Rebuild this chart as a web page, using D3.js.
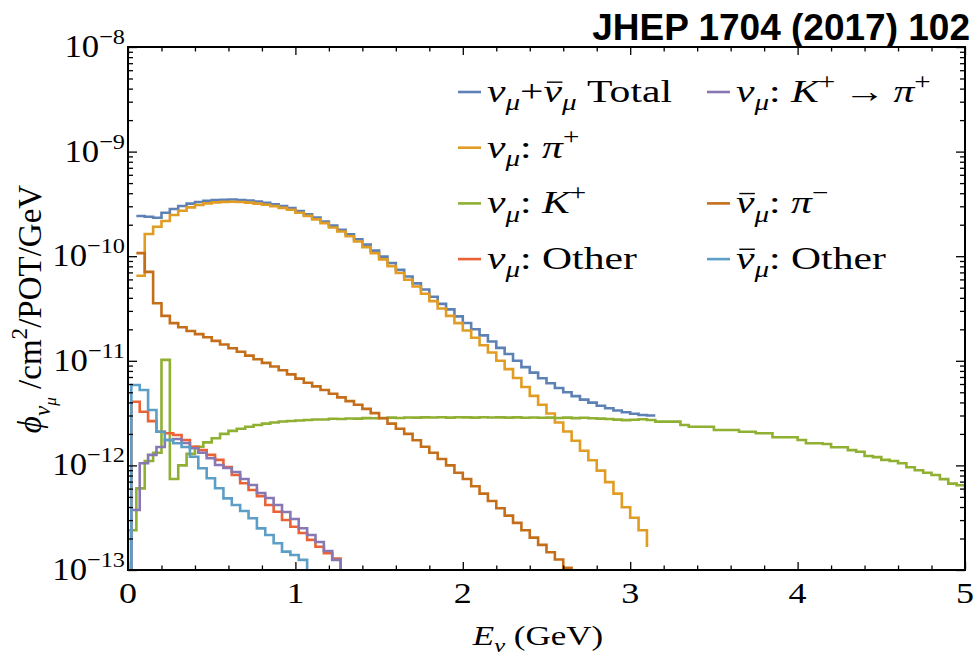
<!DOCTYPE html>
<html><head><meta charset="utf-8">
<script src="https://cdn.jsdelivr.net/npm/d3@7"></script>
<style>body{margin:0;background:#fff}svg{display:block}</style>
</head><body>
<script>
// ---------------- DATA ----------------
const binWidth = 0.05;            // GeV
const xTicks = [0, 1, 2, 3, 4, 5];
const yTickExponents = [-13, -12, -11, -10, -9, -8];

// nu_mu + nubar_mu total  (first bin low edge 0.05 GeV)
const totalStart = 0.05;
const totalValues = [2.42e-10,2.38e-10,2.33e-10,2.60e-10,2.83e-10,3.02e-10,3.18e-10,3.30e-10,3.38e-10,3.44e-10,
 3.47e-10,3.48e-10,3.45e-10,3.41e-10,3.33e-10,3.24e-10,3.14e-10,3.02e-10,2.89e-10,2.70e-10,
 2.52e-10,2.34e-10,2.15e-10,1.96e-10,1.79e-10,1.62e-10,1.45e-10,1.29e-10,1.13e-10,9.9e-11,
 8.6e-11,7.4e-11,6.4e-11,5.5e-11,4.8e-11,4.1e-11,3.5e-11,3.1e-11,2.66e-11,2.30e-11,
 2.00e-11,1.75e-11,1.53e-11,1.33e-11,1.16e-11,1.00e-11,8.7e-12,7.7e-12,6.8e-12,6.1e-12,
 5.5e-12,5.0e-12,4.6e-12,4.25e-12,3.98e-12,3.72e-12,3.52e-12,3.35e-12,3.22e-12,3.12e-12,
 3.03e-12,3.0e-12];
const totalEnd = 3.0e-12;

// nu_mu from pi+
const piPlusStart = 0.05;
const piPlusValues = [6.5e-11,1.63e-10,1.91e-10,2.17e-10,2.48e-10,2.72e-10,2.93e-10,3.09e-10,3.20e-10,3.27e-10,
 3.31e-10,3.32e-10,3.30e-10,3.25e-10,3.18e-10,3.10e-10,3.01e-10,2.90e-10,2.78e-10,2.60e-10,
 2.43e-10,2.25e-10,2.07e-10,1.88e-10,1.72e-10,1.55e-10,1.38e-10,1.22e-10,1.07e-10,9.33e-11,
 8.04e-11,6.92e-11,5.96e-11,5.13e-11,4.37e-11,3.72e-11,3.16e-11,2.69e-11,2.29e-11,1.95e-11,
 1.66e-11,1.41e-11,1.20e-11,1.00e-11,8.32e-12,6.84e-12,5.62e-12,4.62e-12,3.80e-12,3.13e-12,
 2.57e-12,2.11e-12,1.72e-12,1.38e-12,1.12e-12,8.91e-13,6.92e-13,5.37e-13,3.98e-13,3.16e-13,
 2.40e-13];
const piPlusEnd = 1.66e-13;

// nu_mu from K+
const kPlusStart = 0.0;
const kPlusValues = [2.40e-13,6.03e-13,1.10e-12,1.32e-12,1.02e-11,7.41e-13,1.00e-12,1.29e-12,1.51e-12,1.66e-12,
 1.82e-12,2.00e-12,2.14e-12,2.24e-12,2.34e-12,2.43e-12,2.51e-12,2.57e-12,2.63e-12,2.66e-12,
 2.69e-12,2.72e-12,2.75e-12,2.75e-12,2.79e-12,2.78e-12,2.81e-12,2.80e-12,2.83e-12,2.82e-12,
 2.84e-12,2.86e-12,2.84e-12,2.87e-12,2.86e-12,2.88e-12,2.87e-12,2.89e-12,2.86e-12,2.89e-12,
 2.88e-12,2.86e-12,2.89e-12,2.87e-12,2.88e-12,2.86e-12,2.88e-12,2.85e-12,2.87e-12,2.85e-12,
 2.86e-12,2.84e-12,2.86e-12,2.83e-12,2.85e-12,2.82e-12,2.80e-12,2.78e-12,2.74e-12,2.71e-12,
 2.73e-12,2.76e-12,2.72e-12,2.62e-12,2.62e-12,2.62e-12,2.43e-12,2.34e-12,2.34e-12,2.34e-12,
 2.18e-12,2.18e-12,2.18e-12,2.10e-12,2.10e-12,2.03e-12,2.03e-12,1.86e-12,1.86e-12,1.86e-12,
 1.75e-12,1.63e-12,1.63e-12,1.60e-12,1.49e-12,1.49e-12,1.40e-12,1.35e-12,1.23e-12,1.20e-12,
 1.13e-12,1.10e-12,1.05e-12,9.6e-13,9.0e-13,8.5e-13,8.1e-13,7.4e-13,6.7e-13,6.45e-13];
const kPlusEnd = 5.4e-13;

// nu_mu other
const otherStart = 0.02;
const otherValues = [4.06e-12,3.26e-12,2.65e-12,2.10e-12,2.03e-12,1.95e-12,1.75e-12,1.51e-12,1.40e-12,1.26e-12,
 1.13e-12,9.66e-13,8.09e-13,6.75e-13,5.82e-13,5.09e-13,4.18e-13,3.61e-13,3.01e-13,2.59e-13,
 2.26e-13,1.94e-13,1.67e-13,1.45e-13,1.29e-13];
const otherEnd = 1e-14;

// nu_mu from K+ -> pi+
const kPiStart = 0.02;
const kPiValues = [3.75e-13,1.05e-12,1.26e-12,1.50e-12,1.75e-12,1.79e-12,1.64e-12,1.46e-12,1.32e-12,1.17e-12,
 1.01e-12,9.44e-13,8.65e-13,7.41e-13,6.50e-13,5.45e-13,4.88e-13,4.18e-13,3.58e-13,3.07e-13,
 2.51e-13,2.16e-13,1.85e-13,1.52e-13,1.25e-13];
const kPiEnd = 1e-14;

// nubar_mu from pi-
const piMinusStart = 0.05;
const piMinusValues = [1.07e-10,7.08e-11,3.55e-11,2.69e-11,2.29e-11,2.09e-11,1.93e-11,1.80e-11,1.68e-11,1.55e-11,
 1.43e-11,1.32e-11,1.22e-11,1.12e-11,1.035e-11,9.55e-12,8.81e-12,8.13e-12,7.41e-12,6.76e-12,
 6.17e-12,5.69e-12,5.25e-12,4.84e-12,4.47e-12,4.12e-12,3.80e-12,3.47e-12,3.16e-12,2.82e-12,
 2.51e-12,2.24e-12,2.00e-12,1.74e-12,1.51e-12,1.32e-12,1.15e-12,1.00e-12,8.51e-13,7.41e-13,
 6.31e-13,5.37e-13,4.57e-13,3.89e-13,3.31e-13,2.82e-13,2.40e-13,2.04e-13,1.74e-13,1.48e-13,
 1.26e-13,1.05e-13,8.7e-14];
const piMinusEnd = 8.0e-14;

// nubar_mu other
const barOtherStart = 0.02;
const barOtherValues = [5.87e-12,5.26e-12,3.39e-12,2.10e-12,1.75e-12,1.63e-12,1.50e-12,1.21e-12,9.38e-13,7.53e-13,
 6.04e-13,4.84e-13,4.18e-13,3.66e-13,3.12e-13,2.50e-13,2.16e-13,1.80e-13,1.50e-13,1.39e-13,
 1.25e-13];
const barOtherEnd = 1e-14;

// ---------------- LAYOUT ----------------
const W = 979, H = 657;
const PL = 128, PR = 965, PT = 47, PB = 570;
const SERIF = "'Liberation Serif', 'Times New Roman', serif";
const SX = 1.2; // horizontal stretch of the reference typography

const x = d3.scaleLinear().domain([0, 5]).range([PL, PR]);
const y = d3.scaleLog().domain([1e-13, 1e-8]).range([PB, PT]);
const FLOOR = 1e-15;

const series = [
  {key:'total',   start: totalStart,   values: totalValues,   end: totalEnd,   color:'#5E81B5', rise:false},
  {key:'piPlus',  start: piPlusStart,  values: piPlusValues,  end: piPlusEnd,  color:'#E19C24', rise:false},
  {key:'kPlus',   start: kPlusStart,   values: kPlusValues,   end: kPlusEnd,   color:'#8FB032', rise:true},
  {key:'other',   start: otherStart,   values: otherValues,   end: otherEnd,   color:'#EB6235', rise:true},
  {key:'kPi',     start: kPiStart,     values: kPiValues,     end: kPiEnd,     color:'#8778B3', rise:true},
  {key:'piMinus', start: piMinusStart, values: piMinusValues, end: piMinusEnd, color:'#C56E1A', rise:false},
  {key:'barOther',start: barOtherStart,values: barOtherValues,end: barOtherEnd,color:'#5D9EC7', rise:true}
];

const svg = d3.select('body').append('svg').attr('width', W).attr('height', H);
svg.append('rect').attr('width', W).attr('height', H).attr('fill', '#fff');

svg.append('defs').append('clipPath').attr('id', 'plotclip')
  .append('rect').attr('x', PL).attr('y', PT).attr('width', PR - PL).attr('height', PB - PT);

// ---------------- rich text helper ----------------
function richText(parent, tx, ty, segs, size, opts = {}) {
  let tf = `translate(${tx},${ty})`;
  if (opts.rotate) tf += ` rotate(${opts.rotate}) scale(1,${opts.sy || 1})`;
  else tf += ` scale(${opts.sx || 1},1)`;
  const g = parent.append('g').attr('transform', tf);
  const t = g.append('text')
    .attr('font-family', opts.family || SERIF).attr('font-size', size)
    .attr('text-anchor', opts.anchor || 'start').attr('fill', '#000');
  if (opts.weight) t.attr('font-weight', opts.weight);
  let shift = 0, idx = 0;
  const bars = [];
  segs.forEach(s => {
    const sp = t.append('tspan').text(s.t);
    let target = 0, fs = size;
    if (s.sub) { target = size * 0.26; fs = size * 0.7; }
    if (s.sub2) { target = size * 0.45; fs = size * 0.52; }
    if (s.sup) { target = -size * 0.42; fs = size * 0.7; }
    if (target - shift !== 0) sp.attr('dy', target - shift);
    shift = target;
    sp.attr('font-size', fs);
    if (s.i) sp.attr('font-style', 'italic');
    if (s.bar) bars.push({idx, base: target, fs});
    idx += s.t.length;
  });
  bars.forEach(b => {
    const ext = t.node().getExtentOfChar(b.idx);
    g.append('line')
      .attr('x1', ext.x + ext.width * 0.18).attr('x2', ext.x + ext.width * 1.02)
      .attr('y1', b.base - b.fs * 0.62).attr('y2', b.base - b.fs * 0.62)
      .attr('stroke', '#000').attr('stroke-width', 1.4);
  });
  return t;
}

// ---------------- series ----------------
const line = d3.line().x(d => x(d[0])).y(d => y(d[1])).curve(d3.curveStepAfter);
const plot = svg.append('g').attr('clip-path', 'url(#plotclip)');
series.forEach(s => {
  const pts = [];
  if (s.rise) pts.push([s.start, FLOOR]);
  s.values.forEach((v, i) => pts.push([s.start + i * binWidth, v]));
  pts.push([s.start + s.values.length * binWidth, s.end]);
  plot.append('path').datum(pts).attr('d', line)
    .attr('fill', 'none').attr('stroke', s.color).attr('stroke-width', 2.6)
    .attr('stroke-linejoin', 'miter').attr('stroke-linecap', 'butt');
});

// ---------------- axes ----------------
const xMinor = d3.range(0, 5.0001, 0.2).filter(v => Math.abs(v - Math.round(v)) > 1e-6);
const yMajor = yTickExponents.map(e => Math.pow(10, e));
const yMinor = [];
yTickExponents.slice(0, -1).forEach(e => { for (let k = 2; k <= 9; k++) yMinor.push(k * Math.pow(10, e)); });

function styleAxis(g) {
  g.select('.domain').remove();
  g.selectAll('.tick line').attr('stroke', '#000').attr('stroke-width', 1.3);
  g.selectAll('.tick text').remove();
}
svg.append('g').attr('transform', `translate(0,${PB})`)
  .call(d3.axisBottom(x).tickValues(xTicks).tickSize(-8).tickSizeOuter(0)).call(styleAxis);
svg.append('g').attr('transform', `translate(0,${PB})`)
  .call(d3.axisBottom(x).tickValues(xMinor).tickSize(-4.5).tickSizeOuter(0)).call(styleAxis);
svg.append('g').attr('transform', `translate(0,${PT})`)
  .call(d3.axisTop(x).tickValues(xTicks).tickSize(-8).tickSizeOuter(0)).call(styleAxis);
svg.append('g').attr('transform', `translate(0,${PT})`)
  .call(d3.axisTop(x).tickValues(xMinor).tickSize(-4.5).tickSizeOuter(0)).call(styleAxis);
svg.append('g').attr('transform', `translate(${PL},0)`)
  .call(d3.axisLeft(y).tickValues(yMajor).tickSize(-9).tickSizeOuter(0)).call(styleAxis);
svg.append('g').attr('transform', `translate(${PL},0)`)
  .call(d3.axisLeft(y).tickValues(yMinor).tickSize(-5).tickSizeOuter(0)).call(styleAxis);
svg.append('g').attr('transform', `translate(${PR},0)`)
  .call(d3.axisRight(y).tickValues(yMajor).tickSize(-9).tickSizeOuter(0)).call(styleAxis);
svg.append('g').attr('transform', `translate(${PR},0)`)
  .call(d3.axisRight(y).tickValues(yMinor).tickSize(-5).tickSizeOuter(0)).call(styleAxis);

svg.append('rect').attr('x', PL).attr('y', PT).attr('width', PR - PL).attr('height', PB - PT)
  .attr('fill', 'none').attr('stroke', '#000').attr('stroke-width', 2);

// tick labels
xTicks.forEach(v => richText(svg, x(v), 603, [{t: String(v)}], 30, {anchor: 'middle', sx: SX}));
yTickExponents.forEach(e => {
  richText(svg, 125, y(Math.pow(10, e)) + 10, [{t: '10'}, {t: '\u2212' + Math.abs(e), sup: 1}], 31, {anchor: 'end', sx: 1.12});
});

// axis titles
richText(svg, 538, 645, [{t: 'E', i: 1}, {t: '\u03BD', sub: 1, i: 1}, {t: ' (GeV)'}], 28, {anchor: 'middle', sx: SX + 0.05});
richText(svg, 41, 309, [{t: '\u03D5', i: 1}, {t: '\u03BD', sub: 1, i: 1}, {t: '\u03BC', sub2: 1, i: 1},
  {t: ' /cm'}, {t: '2', sup: 1}, {t: '/POT/GeV'}], 33, {anchor: 'middle', rotate: -90, sy: 1.0});

// title
richText(svg, 970, 40, [{t: 'JHEP 1704 (2017) 102'}], 37,
  {anchor: 'end', family: "'Liberation Sans', Arial, sans-serif", weight: 'bold'});

// ---------------- legend ----------------
const NU = '\u03BD', MU = '\u03BC';
const legendItems = [
  {key:'total',   col:0, row:0, segs:[{t:NU,i:1},{t:MU,sub:1,i:1},{t:'+'},{t:NU,i:1,bar:1},{t:MU,sub:1,i:1},{t:' Total'}]},
  {key:'piPlus',  col:0, row:1, segs:[{t:NU,i:1},{t:MU,sub:1,i:1},{t:': '},{t:'\u03C0',i:1},{t:'+',sup:1}]},
  {key:'kPlus',   col:0, row:2, segs:[{t:NU,i:1},{t:MU,sub:1,i:1},{t:': '},{t:'K',i:1},{t:'+',sup:1}]},
  {key:'other',   col:0, row:3, segs:[{t:NU,i:1},{t:MU,sub:1,i:1},{t:': Other'}]},
  {key:'kPi',     col:1, row:0, segs:[{t:NU,i:1},{t:MU,sub:1,i:1},{t:': '},{t:'K',i:1},{t:'+',sup:1},{t:'\u2009\u2192\u2009'},{t:'\u03C0',i:1},{t:'+',sup:1}]},
  {key:'piMinus', col:1, row:2, segs:[{t:NU,i:1,bar:1},{t:MU,sub:1,i:1},{t:': '},{t:'\u03C0',i:1},{t:'\u2212',sup:1}]},
  {key:'barOther',col:1, row:3, segs:[{t:NU,i:1,bar:1},{t:MU,sub:1,i:1},{t:': Other'}]}
];
const legCol = [458, 707], legRow0 = 92, legDy = 55.7;
const colorOf = Object.fromEntries(series.map(s => [s.key, s.color]));
legendItems.forEach(it => {
  const lx = legCol[it.col], ly = legRow0 + it.row * legDy;
  svg.append('line').attr('x1', lx).attr('x2', lx + 23).attr('y1', ly).attr('y2', ly)
    .attr('stroke', colorOf[it.key]).attr('stroke-width', 2.6);
  richText(svg, lx + 29, ly + 10, it.segs, 32, {sx: 1.3});
});
</script>
</body></html>
